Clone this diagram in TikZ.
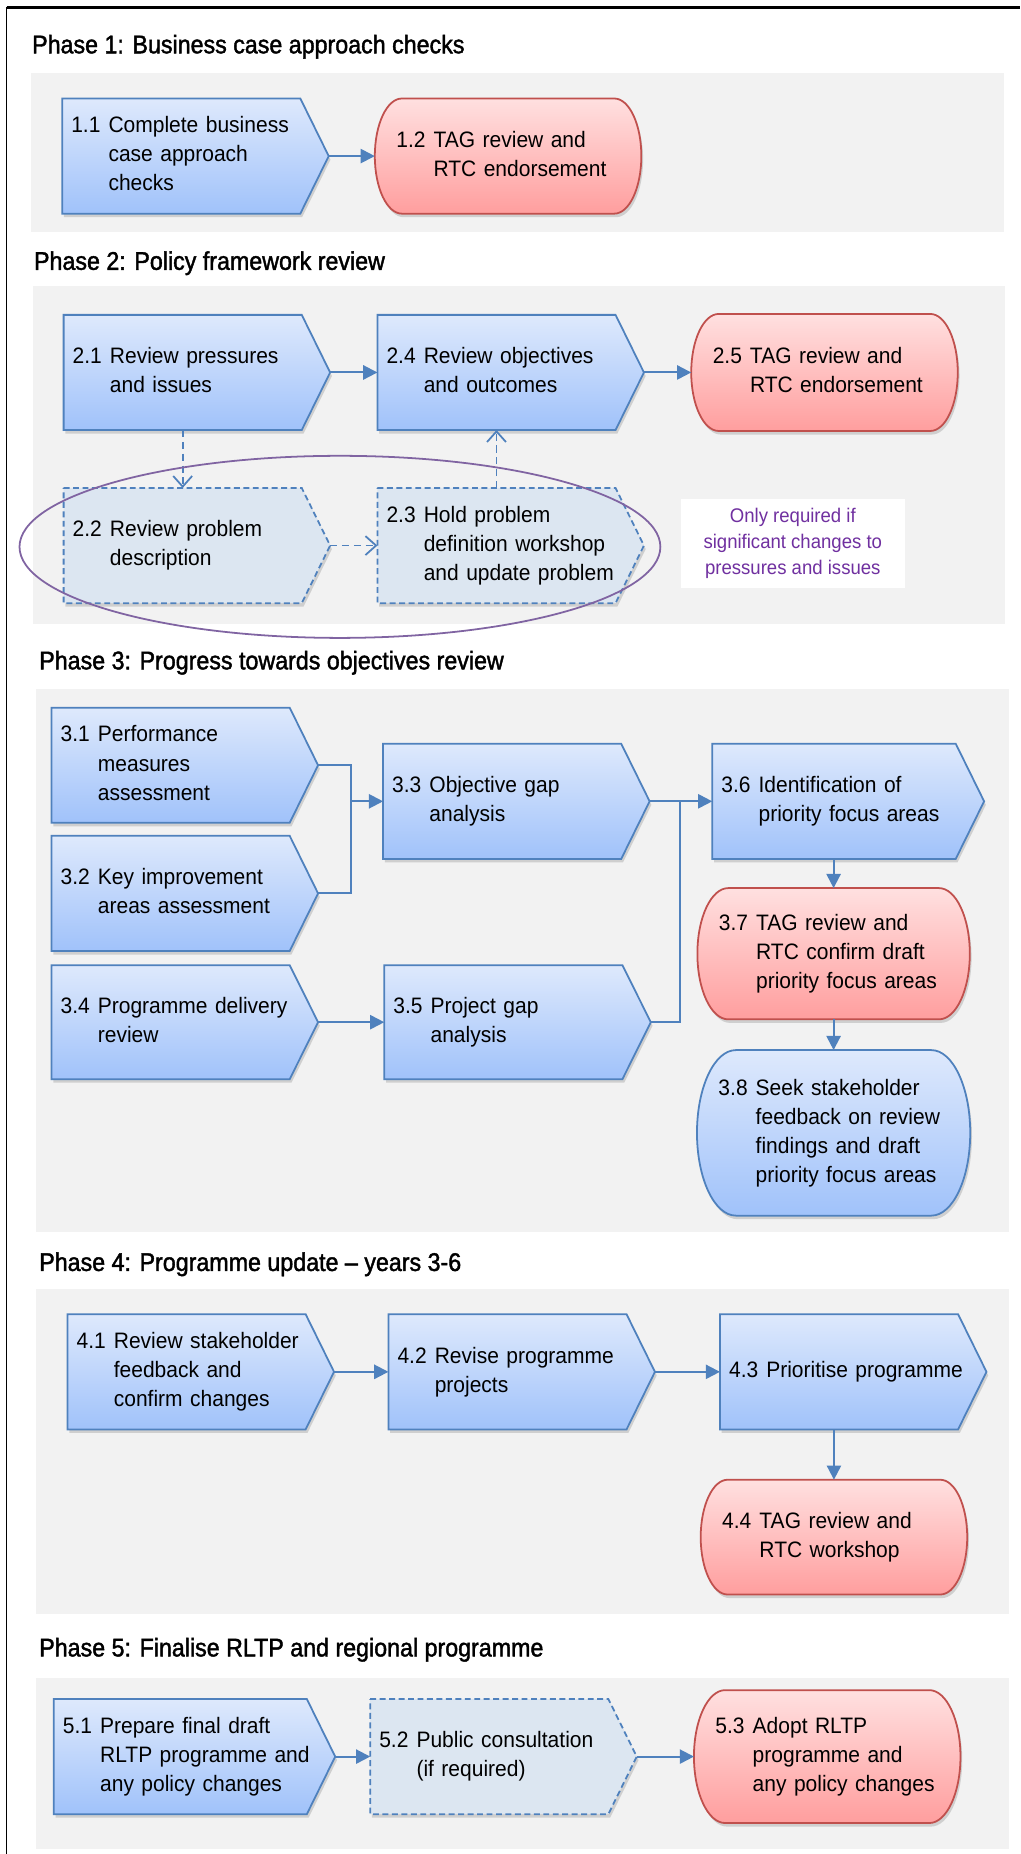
\documentclass[tikz,border=0pt]{standalone}
\usepackage{fontspec}
\setmainfont{Liberation Sans}[FakeStretch=0.94]
\newfontfamily\phasefont{Liberation Sans}[FakeStretch=0.91,FakeBold=1.6]
\usepackage{tikz}
\usetikzlibrary{positioning}
\usetikzlibrary{arrows.meta}
\usetikzlibrary{shadows}
\usetikzlibrary{calc}

\definecolor{panelgray}{RGB}{242,242,242}
\definecolor{stepblue}{RGB}{79,129,189}
\definecolor{steptop}{RGB}{222,233,252}
\definecolor{stepbottom}{RGB}{160,194,250}
\definecolor{endred}{RGB}{192,80,77}
\definecolor{endtop}{RGB}{255,224,224}
\definecolor{endbottom}{RGB}{255,158,158}
\definecolor{optfill}{RGB}{220,230,241}
\definecolor{notepurple}{RGB}{112,48,160}
\definecolor{ringpurple}{RGB}{128,100,162}

\pgfdeclarelayer{bg}
\pgfsetlayers{bg,main}

\newcommand{\tasktext}[2]{\begin{tabular}{@{}l@{}l@{}}\makebox[31.5pt][l]{#1} & #2\end{tabular}}

\newcommand{\chevron}[2][stepshape]{%
  \begin{pgfonlayer}{bg}
    \path[#1] (#2.north west) -- ([xshift=-24pt]#2.north east) -- (#2.east)
      -- ([xshift=-24pt]#2.south east) -- (#2.south west) -- cycle;
  \end{pgfonlayer}}

\newcommand{\capsule}[2][endshape]{%
  \begin{pgfonlayer}{bg}
    \path[#1] let \p1=(#2.north), \p2=(#2.south), \n1={(\y1-\y2)/2}, \n2={0.235*(\y1-\y2)} in
      ([xshift=\n2]#2.north west) -- ([xshift=-\n2]#2.north east)
      arc[start angle=90, end angle=-90, x radius=\n2, y radius=\n1]
      -- ([xshift=\n2]#2.south west)
      arc[start angle=270, end angle=90, x radius=\n2, y radius=\n1] -- cycle;
  \end{pgfonlayer}}

\begin{document}
\begin{tikzpicture}[x=1pt, y=1pt,
    task/.style={rectangle, minimum width=225pt, minimum height=97pt, text width=210pt, inner xsep=7.5pt, inner ysep=0pt, align=left, font=\fontsize{18.9}{24.6}\selectfont},
    review/.style={task, inner xsep=18pt, text width=189pt},
    stepshape/.style={draw=stepblue, line width=1.5pt, top color=steptop, bottom color=stepbottom, drop shadow={shadow xshift=1.5pt, shadow yshift=-3pt, opacity=0.3}},
    optshape/.style={draw=stepblue, line width=1.5pt, dash pattern=on 5pt off 3pt, fill=optfill, drop shadow={shadow xshift=1.5pt, shadow yshift=-3pt, opacity=0.3}},
    endshape/.style={draw=endred, line width=1.5pt, top color=endtop, bottom color=endbottom, drop shadow={shadow xshift=1.5pt, shadow yshift=-3pt, opacity=0.3}},
    panel/.style={fill=panelgray},
    phase/.style={anchor=west, inner sep=0pt, font=\phasefont\fontsize{21.6}{26}\selectfont},
    flow/.style={draw=stepblue, line width=1.7pt, -{Triangle[length=12pt,width=12pt]}},
    joint/.style={draw=stepblue, line width=1.7pt},
    optflow/.style={draw=stepblue, line width=1.5pt, dash pattern=on 6pt off 4pt, -{Straight Barb[length=9pt,width=16pt,line width=1.5pt]}},
    note/.style={fill=white, minimum width=189pt, minimum height=75pt, align=center, text=notepurple, font=\fontsize{16.7}{22}\selectfont},
    ring/.style={draw=ringpurple, line width=1.5pt}]
    \useasboundingbox (0,0) rectangle (863,-1568);
    \begin{pgfonlayer}{bg}
        \fill[panel] (26.5,-61.4) rectangle (849,-195.8);
        \fill[panel] (27.5,-242.3) rectangle (850,-528);
        \fill[panel] (30.3,-582.4) rectangle (853,-1041.7);
        \fill[panel] (30.3,-1090.4) rectangle (853,-1365.2);
        \fill[panel] (30.3,-1419.3) rectangle (853,-1563.8);
    \end{pgfonlayer}
    \draw[line width=2.2pt] (5.5,-6.5) -- (863,-6.5);
    \draw[line width=1.2pt] (5.5,-6) -- (5.5,-1568);

    \node[phase] (t1) at (27,-39.5) {Phase 1: Business case approach checks};
    \node[task] (b11) at (165.3,-132) {\tasktext{1.1}{Complete business\\ & case approach\\ & checks}};
    \node[review] (b12) [right=39pt of b11] {\tasktext{1.2}{TAG review and\\ & RTC endorsement}};

    \node[phase] (t2) at (28.6,-222.6) {Phase 2: Policy framework review};
    \node[task] (b21) at (166.5,-315) {\tasktext{2.1}{Review pressures\\ & and issues}};
    \node[task] (b24) [right=40pt of b21] {\tasktext{2.4}{Review objectives\\ & and outcomes}};
    \node[review, minimum height=98.6pt] (b25) [right=40pt of b24] {\tasktext{2.5}{TAG review and\\ & RTC endorsement}};
    \node[task] (b22) [below=49pt of b21] {\tasktext{2.2}{Review problem\\ & description}};
    \node[task] (b23) [right=40pt of b22] {\tasktext{2.3}{Hold problem\\ & definition workshop\\ & and update problem}};
    \node[note] (nt2) at (670.5,-459.5) {Only required if\\significant changes to\\pressures and issues};

    \node[phase] (t3) at (33,-560.5) {Phase 3: Progress towards objectives review};
    \node[task] (b31) at (156.3,-647.2) {\tasktext{3.1}{Performance\\ & measures\\ & assessment}};
    \node[task] (b32) [below=11pt of b31] {\tasktext{3.2}{Key improvement\\ & areas assessment}};
    \node[task, minimum height=96pt] (b34) [below=12pt of b32] {\tasktext{3.4}{Programme delivery\\ & review}};
    \node[task] (b33) at (436.7,-677.7) {\tasktext{3.3}{Objective gap\\ & analysis}};
    \node[task, minimum height=96pt] (b35) [right=56pt of b34] {\tasktext{3.5}{Project gap\\ & analysis}};
    \node[task, minimum width=229.5pt, text width=214.5pt] (b36) [right=53pt of b33] {\tasktext{3.6}{Identification of\\ & priority focus areas}};
    \node[review, minimum width=230pt, text width=194pt, minimum height=110.6pt] (b37) at (705,-806.6) {\tasktext{3.7}{TAG review and\\ & RTC confirm draft\\ & priority focus areas}};
    \node[review, minimum width=230.7pt, text width=194.7pt, minimum height=139.6pt] (b38) [below=26pt of b37] {\tasktext{3.8}{Seek stakeholder\\ & feedback on review\\ & findings and draft\\ & priority focus areas}};
    \coordinate (j31) at (297.2,-677.7);
    \coordinate (j33) at (575,-677.7);

    \node[phase] (t4) at (33,-1069.3) {Phase 4: Programme update – years 3-6};
    \node[task] (b41) at (169.8,-1160.2) {\tasktext{4.1}{Review stakeholder\\ & feedback and\\ & confirm changes}};
    \node[task] (b42) [right=46pt of b41] {\tasktext{4.2}{Revise programme\\ & projects}};
    \node[task] (b43) [right=55pt of b42] {\tasktext{4.3}{Prioritise programme}};
    \node[review, minimum height=96.7pt] (b44) at (705.3,-1300) {\tasktext{4.4}{TAG review and\\ & RTC workshop}};

    \node[phase] (t5) at (33,-1395.3) {Phase 5: Finalise RLTP and regional programme};
    \node[task, minimum width=237.6pt, text width=222.6pt] (b51) at (164.5,-1485.6) {\tasktext{5.1}{Prepare final draft\\ & RLTP programme and\\ & any policy changes}};
    \node[task] (b52) [right=29.6pt of b51] {\tasktext{5.2}{Public consultation\\ & (if required)}};
    \node[review, minimum height=112pt] (b53) [right=48.4pt of b52] {\tasktext{5.3}{Adopt RLTP\\ & programme and\\ & any policy changes}};

    \chevron{b11}
    \capsule{b12}
    \chevron{b21}
    \chevron{b24}
    \capsule{b25}
    \chevron[optshape]{b22}
    \chevron[optshape]{b23}
    \chevron{b31}
    \chevron{b32}
    \chevron{b34}
    \chevron{b33}
    \chevron{b35}
    \chevron{b36}
    \capsule{b37}
    \capsule[stepshape]{b38}
    \chevron{b41}
    \chevron{b42}
    \chevron{b43}
    \capsule{b44}
    \chevron{b51}
    \chevron[optshape]{b52}
    \capsule{b53}

    \draw[flow] (b11.east) -- (b12.west);
    \draw[flow] (b21.east) -- (b24.west);
    \draw[flow] (b24.east) -- (b25.west);
    \draw[optflow] ([xshift=-12pt]b21.south) -- ([xshift=-12pt]b22.north);
    \draw[optflow] (b22.east) -- (b23.west);
    \draw[optflow] ([xshift=-12pt]b23.north) -- ([xshift=-12pt]b24.south);
    \draw[joint] (b31.east) -| (j31) |- (b32.east);
    \draw[flow] (j31) -- (b33.west);
    \draw[flow] (b34.east) -- (b35.west);
    \draw[joint] (b35.east) -| (j33);
    \draw[flow] (b33.east) -- (b36.west);
    \draw[flow] (b36.south -| b37.north) -- (b37.north);
    \draw[flow] (b37.south) -- (b38.north);
    \draw[flow] (b41.east) -- (b42.west);
    \draw[flow] (b42.east) -- (b43.west);
    \draw[flow] (b43.south -| b44.north) -- (b44.north);
    \draw[flow] (b51.east) -- (b52.west);
    \draw[flow] (b52.east) -- (b53.west);
    \draw[ring] (287.5,-462.5) ellipse [x radius=271, y radius=77];
\end{tikzpicture}
\end{document}
